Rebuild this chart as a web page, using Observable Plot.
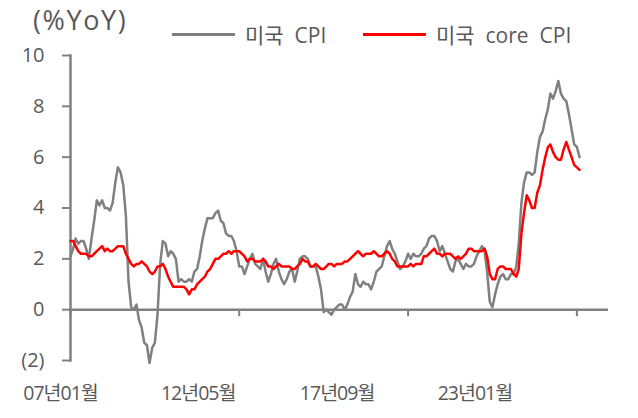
<!DOCTYPE html>
<html>
<head>
<meta charset="utf-8">
<script src="https://cdn.jsdelivr.net/npm/d3@7"></script>
<script src="https://cdn.jsdelivr.net/npm/@observablehq/plot@0.6"></script>
<style>
  html, body { margin: 0; padding: 0; background: #fff; }
  #wrap { position: relative; width: 638px; height: 418px; font-family: "Open Sans", "Noto Sans CJK KR", sans-serif; color: #595959; }
  #title { position: absolute; left: 33px; top: 1px; font-size: 27px; letter-spacing: 1.6px; }
  .leg { position: absolute; top: 19px; font-size: 21px; display: flex; align-items: center; white-space: pre; }
  .sw { display: inline-block; width: 63px; height: 3px; margin-right: 10px; }
  #chart { position: absolute; left: 0; top: 0; }
  .xlab text { letter-spacing: -1px; }
</style>
</head>
<body>
<div id="wrap">
  <div id="chart"></div>
  <div id="title">(%YoY)</div>
  <div class="leg" style="left:172px"><span class="sw" style="background:#808080"></span>미국  CPI</div>
  <div class="leg" style="left:363px"><span class="sw" style="background:#ff0000"></span>미국  core  CPI</div>
</div>
<script>
// Monthly series, starting 2007-01
const startMonth = "2007-01-01";
const cpiUS = [
  2.1, 2.4, 2.8, 2.6, 2.7, 2.7, 2.4, 2.0, 2.8, 3.5, 4.3, 4.1,
  4.3, 4.0, 4.0, 3.9, 4.2, 5.0, 5.6, 5.4, 4.9, 3.7, 1.1, 0.1,
  0.0, 0.2, -0.4, -0.7, -1.3, -1.4, -2.1, -1.5, -1.3, -0.2, 1.8, 2.7,
  2.6, 2.1, 2.3, 2.2, 2.0, 1.1, 1.2, 1.1, 1.1, 1.2, 1.1, 1.5,
  1.6, 2.1, 2.7, 3.2, 3.6, 3.6, 3.6, 3.8, 3.9, 3.5, 3.4, 3.0,
  2.9, 2.9, 2.7, 2.3, 1.7, 1.7, 1.4, 1.7, 2.0, 2.2, 1.8, 1.7,
  1.6, 2.0, 1.5, 1.1, 1.4, 1.8, 2.0, 1.5, 1.2, 1.0, 1.2, 1.5,
  1.6, 1.1, 1.5, 2.0, 2.1, 2.1, 2.0, 1.7, 1.7, 1.7, 1.3, 0.8,
  -0.1, 0.0, -0.1, -0.2, 0.0, 0.1, 0.2, 0.2, 0.0, 0.2, 0.5, 0.7,
  1.4, 1.0, 0.9, 1.1, 1.0, 1.0, 0.8, 1.1, 1.5, 1.6, 1.7, 2.1,
  2.5, 2.7, 2.4, 2.2, 1.9, 1.6, 1.7, 1.9, 2.2, 2.0, 2.2, 2.1,
  2.1, 2.2, 2.4, 2.5, 2.8, 2.9, 2.9, 2.7, 2.3, 2.5, 2.2, 1.9,
  1.6, 1.5, 1.9, 2.0, 1.8, 1.6, 1.8, 1.7, 1.7, 1.8, 2.1, 2.3,
  2.5, 2.3, 1.5, 0.3, 0.1, 0.6, 1.0, 1.3, 1.4, 1.2, 1.2, 1.4,
  1.4, 1.7, 2.6, 4.2, 5.0, 5.4, 5.4, 5.3, 5.4, 6.2, 6.8, 7.0,
  7.5, 7.9, 8.5, 8.3, 8.6, 9.0, 8.5, 8.3, 8.2, 7.7, 7.1, 6.5,
  6.4, 6.0
];
const coreCpiUS = [
  2.7, 2.7, 2.5, 2.3, 2.2, 2.2, 2.2, 2.1, 2.1, 2.2, 2.3, 2.4,
  2.5, 2.3, 2.4, 2.3, 2.3, 2.4, 2.5, 2.5, 2.5, 2.2, 2.0, 1.8,
  1.7, 1.8, 1.8, 1.9, 1.8, 1.7, 1.5, 1.4, 1.5, 1.7, 1.7, 1.8,
  1.6, 1.3, 1.1, 0.9, 0.9, 0.9, 0.9, 0.9, 0.8, 0.6, 0.8, 0.8,
  1.0, 1.1, 1.2, 1.3, 1.5, 1.6, 1.8, 2.0, 2.0, 2.1, 2.2, 2.2,
  2.3, 2.2, 2.3, 2.3, 2.3, 2.2, 2.1, 1.9, 2.0, 2.0, 1.9, 1.9,
  1.9, 2.0, 1.9, 1.7, 1.7, 1.6, 1.7, 1.8, 1.7, 1.7, 1.7, 1.7,
  1.6, 1.6, 1.7, 1.8, 2.0, 1.9, 1.9, 1.7, 1.7, 1.8, 1.7, 1.6,
  1.6, 1.7, 1.8, 1.8, 1.7, 1.8, 1.8, 1.8, 1.9, 1.9, 2.0, 2.1,
  2.2, 2.3, 2.2, 2.1, 2.2, 2.2, 2.2, 2.3, 2.2, 2.1, 2.1, 2.2,
  2.3, 2.2, 2.0, 1.9, 1.7, 1.7, 1.7, 1.7, 1.7, 1.8, 1.7, 1.8,
  1.8, 1.8, 2.1, 2.1, 2.2, 2.3, 2.4, 2.2, 2.2, 2.1, 2.2, 2.2,
  2.2, 2.1, 2.0, 2.1, 2.0, 2.1, 2.2, 2.4, 2.4, 2.3, 2.3, 2.3,
  2.3, 2.4, 2.1, 1.4, 1.2, 1.2, 1.6, 1.7, 1.7, 1.6, 1.6, 1.6,
  1.4, 1.3, 1.6, 3.0, 3.8, 4.5, 4.3, 4.0, 4.0, 4.6, 4.9, 5.5,
  6.0, 6.4, 6.5, 6.2, 6.0, 5.9, 5.9, 6.3, 6.6, 6.3, 6.0, 5.7,
  5.6, 5.5
];
const xTickDates = ["2007-01-01", "2012-05-01", "2017-09-01", "2023-01-01"];
const xDomain = ["2007-01-01", "2024-01-01"];
const yTicks = [-2, 0, 2, 4, 6, 8, 10];

const start = new Date(startMonth);
const toRows = (arr) => arr.map((v, i) => ({date: d3.utcMonth.offset(start, i), value: v}));
const cpiRows = toRows(cpiUS);
const coreRows = toRows(coreCpiUS);
const ticks = xTickDates.map(d => new Date(d));

const gray = "#808080";
const txt = "#595959";
const fmtDate = d3.utcFormat("%y년%m월");
const labelDx = [-10, -41, -71, -102];

const chart = Plot.plot({
  width: 638,
  height: 418,
  marginLeft: 70,
  marginRight: 30,
  marginTop: 55,
  marginBottom: 58,
  style: {fontFamily: "'Open Sans', 'Noto Sans CJK KR', sans-serif", color: txt, background: "white"},
  x: {type: "utc", domain: xDomain.map(d => new Date(d))},
  y: {domain: [-2, 10]},
  marks: [
    Plot.frame({anchor: "left", stroke: gray, strokeWidth: 2.5}),
    Plot.ruleY([0], {stroke: gray, strokeWidth: 2.5}),
    Plot.ruleX(ticks, {y1: 0, y2: 0, insetBottom: -7, stroke: gray, strokeWidth: 2}),
    Plot.axisY({
      ticks: yTicks, tickSize: 8, tickPadding: 18, stroke: gray, strokeWidth: 2,
      fontSize: 20, fill: txt, label: null,
      tickFormat: d => d < 0 ? `(${-d})` : `${d}`
    }),
    ...ticks.map((t, i) => Plot.axisX([t], {
      anchor: "bottom", tickSize: 0, tickPadding: 26, dx: labelDx[i],
      fontSize: 19.5, fill: txt, label: null, tickFormat: fmtDate, className: "xlab"
    })),
    Plot.lineY(cpiRows, {x: "date", y: "value", stroke: gray, strokeWidth: 2.5}),
    Plot.lineY(coreRows, {x: "date", y: "value", stroke: "#ff0000", strokeWidth: 2.5})
  ]
});
document.getElementById("chart").appendChild(chart);
</script>
</body>
</html>
